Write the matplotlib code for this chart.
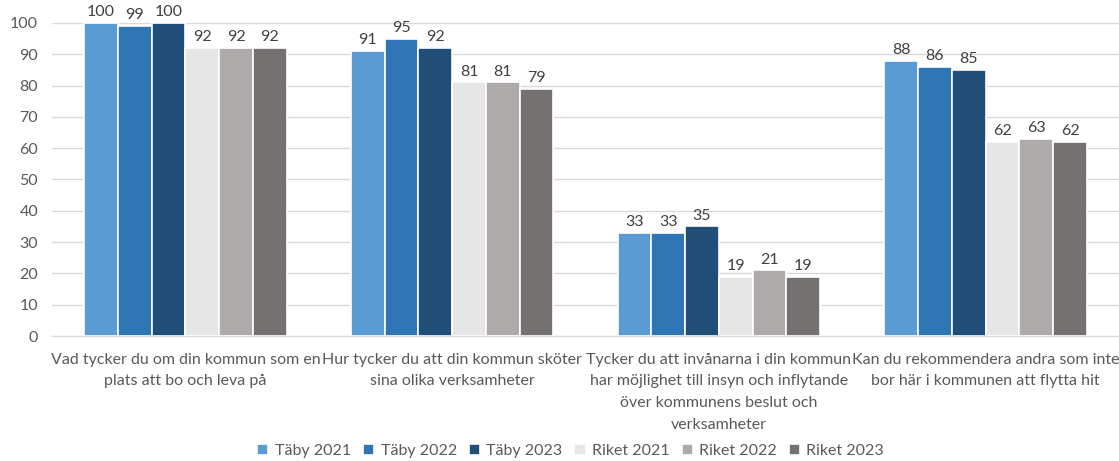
import matplotlib
matplotlib.use("Agg")
import matplotlib.pyplot as plt
import numpy as np

categories = [
    "Vad tycker du om din kommun som en\nplats att bo och leva på",
    "Hur tycker du att din kommun sköter\nsina olika verksamheter",
    "Tycker du att invånarna i din kommun\nhar möjlighet till insyn och inflytande\növer kommunens beslut och\nverksamheter",
    "Kan du rekommendera andra som inte\nbor här i kommunen att flytta hit",
]
series_names = ["Täby 2021", "Täby 2022", "Täby 2023", "Riket 2021", "Riket 2022", "Riket 2023"]
taby_2021 = [100, 91, 33, 88]
taby_2022 = [99, 95, 33, 86]
taby_2023 = [100, 92, 35, 85]
riket_2021 = [92, 81, 19, 62]
riket_2022 = [92, 81, 21, 63]
riket_2023 = [92, 79, 19, 62]
yticks = list(range(0, 101, 10))

series = [taby_2021, taby_2022, taby_2023, riket_2021, riket_2022, riket_2023]
colors = ["#5B9BD5", "#2E75B6", "#1F4E79", "#E7E6E6", "#AEAAAA", "#767171"]

plt.rcParams['font.family'] = ['Lato', 'DejaVu Sans']
fig = plt.figure(figsize=(11.19, 4.61), dpi=100)
ax = fig.add_axes([52/1119, 1 - 336/461, (1119-52)/1119, (336-23)/461])

x = np.arange(len(categories))
slot = 0.76 / 6
for i, (vals, c, name) in enumerate(zip(series, colors, series_names)):
    pos = x - 0.38 + slot * (i + 0.5)
    bars = ax.bar(pos, vals, width=slot, color=c, edgecolor="white", linewidth=1.2, label=name, zorder=3)
    for b, v in zip(bars, vals):
        ax.text(b.get_x() + b.get_width()/2, v + 1.2, str(v), ha="center", va="bottom",
                fontsize=11.5, color="#404040", zorder=4)

ax.set_xlim(-0.5, len(categories) - 0.5)
ax.set_ylim(0, 100)
ax.set_yticks(yticks)
ax.yaxis.grid(True, color="#D9D9D9", linewidth=1, zorder=0)
ax.set_axisbelow(True)
for s in ["left", "right", "top"]:
    ax.spines[s].set_visible(False)
ax.spines["bottom"].set_color("#D9D9D9")
ax.tick_params(axis="both", length=0, labelsize=11.5, labelcolor="#595959")
ax.tick_params(axis="y", pad=10)
ax.tick_params(axis="x", pad=12)
ax.set_xticks(x)
ax.set_xticklabels(categories, linespacing=1.7)

leg = fig.legend(loc="lower center", ncol=6, bbox_to_anchor=(0.51, -0.025), frameon=False,
                 fontsize=11.5, handlelength=0.7, handleheight=0.7, handletextpad=0.4,
                 columnspacing=0.75, labelcolor="#595959")
fig.savefig("out.png", dpi=100)
